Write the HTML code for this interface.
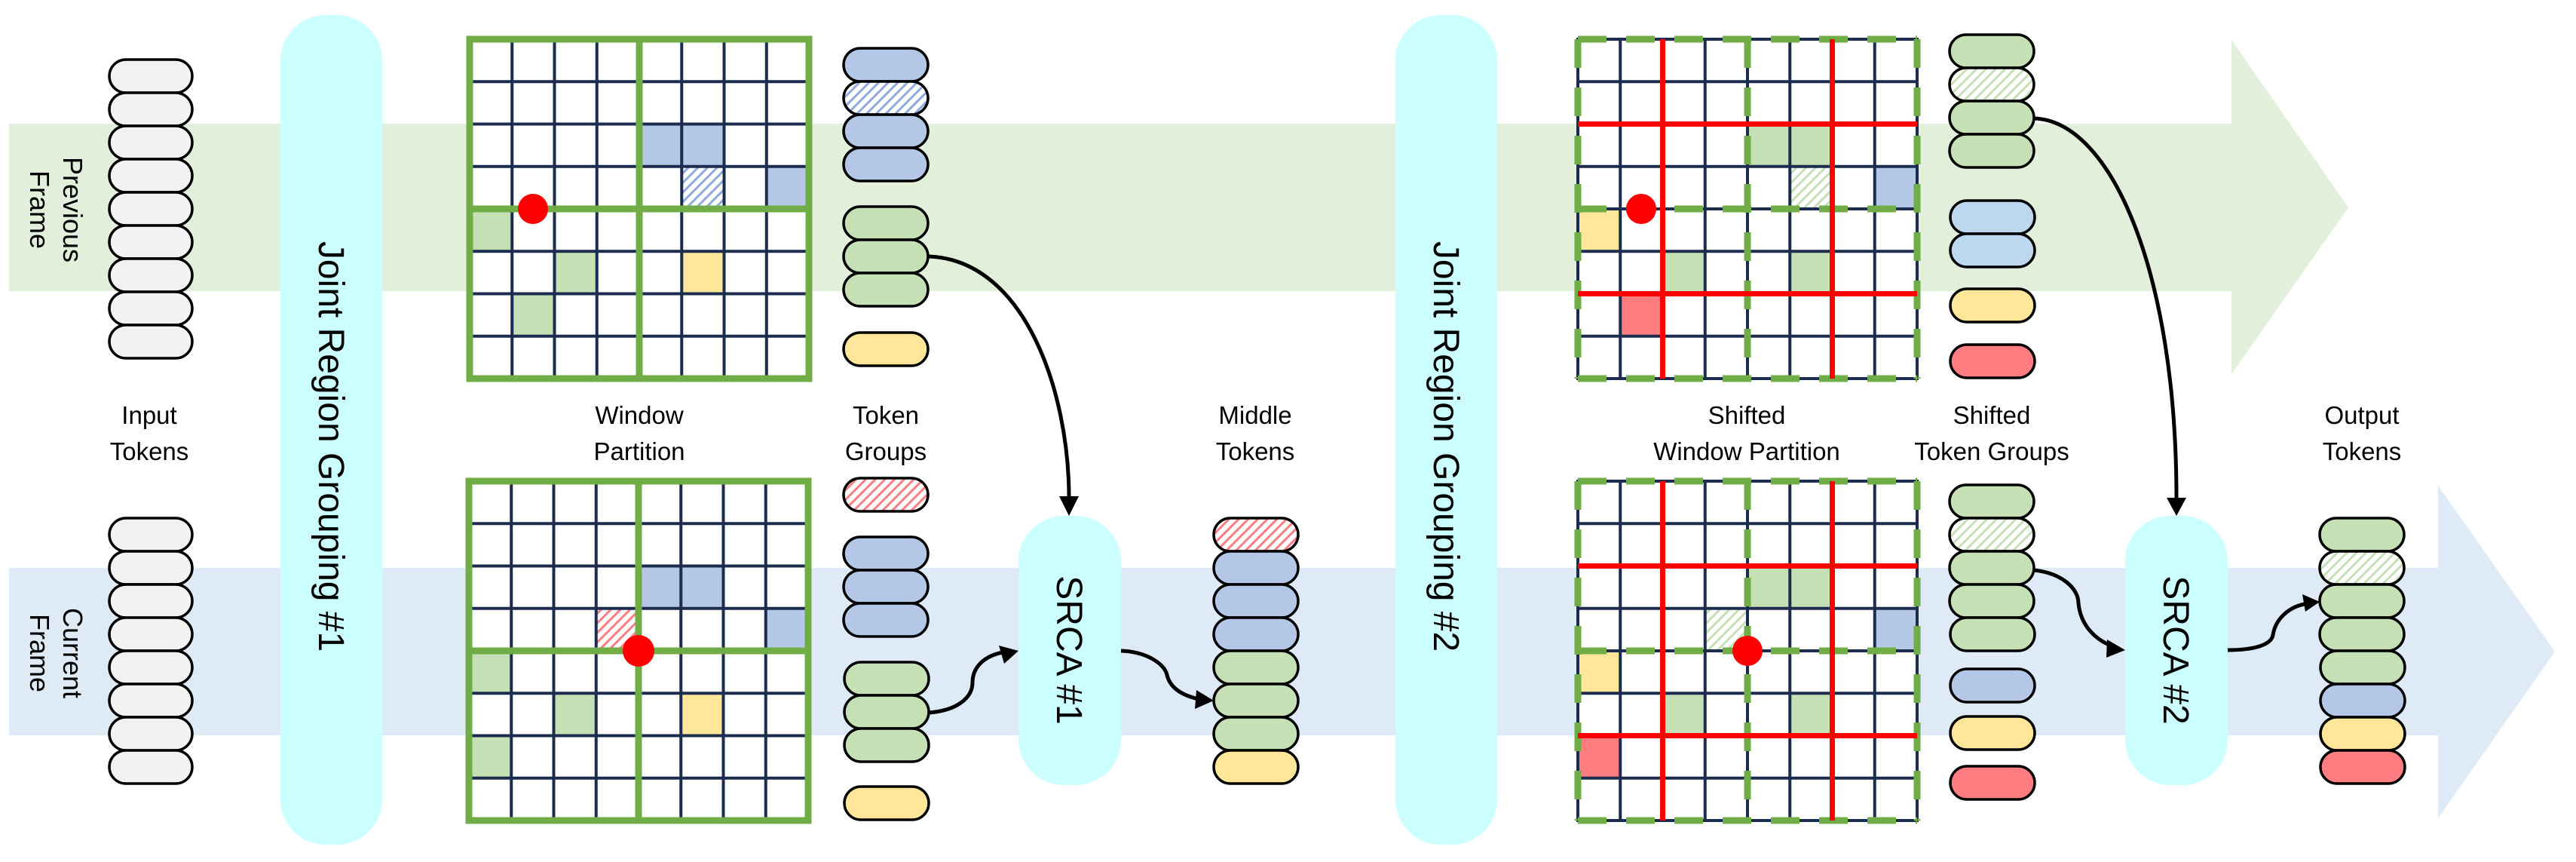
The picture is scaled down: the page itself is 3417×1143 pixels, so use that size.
<!DOCTYPE html>
<html><head><meta charset="utf-8"><style>
html,body{margin:0;padding:0;background:#fff;}
svg{display:block;}
text{font-family:"Liberation Sans",sans-serif;fill:#000;}
</style></head><body>
<svg width="3417" height="1143" viewBox="0 0 3417 1143" xmlns="http://www.w3.org/2000/svg">
<defs>
<pattern id="hb" width="9" height="9" patternUnits="userSpaceOnUse" patternTransform="rotate(45)"><rect width="9" height="9" fill="#fff"/><rect width="3" height="9" fill="#8faadc"/></pattern>
<pattern id="hr" width="9" height="9" patternUnits="userSpaceOnUse" patternTransform="rotate(45)"><rect width="9" height="9" fill="#fff"/><rect width="3" height="9" fill="#ff7c80"/></pattern>
<pattern id="hg" width="9" height="9" patternUnits="userSpaceOnUse" patternTransform="rotate(45)"><rect width="9" height="9" fill="#fff"/><rect width="3" height="9" fill="#c5e0b4"/></pattern>
<path id="gl" d="M56.25 0V450M112.5 0V450M168.75 0V450M225 0V450M281.25 0V450M337.5 0V450M393.75 0V450M0 56.25H450M0 112.5H450M0 168.75H450M0 225H450M0 281.25H450M0 337.5H450M0 393.75H450" stroke="#1b2c4f" stroke-width="4" fill="none"/>
<g id="gsolid"><rect x="0" y="0" width="450" height="450" fill="none" stroke="#70ad47" stroke-width="9"/><path d="M225 0V450M0 225H450" stroke="#70ad47" stroke-width="9"/></g>
<g id="gshift"><rect x="0" y="0" width="450" height="450" fill="none" stroke="#1b2c4f" stroke-width="4"/>
<path d="M0 0H450M0 450H450M0 225H450M0 0V450M450 0V450M225 0V450" stroke="#70ad47" stroke-width="9" stroke-dasharray="38 26" fill="none"/>
<path d="M112.5 0V450M337.5 0V450M0 112.5H450M0 337.5H450" stroke="#ff0000" stroke-width="7"/></g>
</defs>

<polygon points="12,164 2960,164 2960,53 3115,275 2960,496 2960,386 12,386" fill="#e2efda"/>
<polygon points="12,753 3234,753 3234,644 3389,864 3234,1085 3234,975 12,975" fill="#deebf7"/>

<g font-size="36">
<text transform="translate(84,278) rotate(90)" text-anchor="middle">Previous</text>
<text transform="translate(40,278) rotate(90)" text-anchor="middle">Frame</text>
<text transform="translate(84,866) rotate(90)" text-anchor="middle">Current</text>
<text transform="translate(40,866) rotate(90)" text-anchor="middle">Frame</text>
</g>

<rect x="372" y="20" width="135" height="1100" rx="60" fill="#ccffff"/>
<rect x="1851" y="20" width="135" height="1100" rx="60" fill="#ccffff"/>
<rect x="1351" y="684" width="136" height="357" rx="60" fill="#ccffff"/>
<rect x="2819" y="684" width="136" height="357" rx="60" fill="#ccffff"/>
<g font-size="48">
<text transform="translate(423,592) rotate(90)" text-anchor="middle">Joint Region Grouping #1</text>
<text transform="translate(1902,592) rotate(90)" text-anchor="middle">Joint Region Grouping #2</text>
<text transform="translate(1402,862) rotate(90)" text-anchor="middle">SRCA #1</text>
<text transform="translate(2870,862) rotate(90)" text-anchor="middle">SRCA #2</text>
</g>

<g transform="translate(623,52)">
<rect x="0" y="0" width="450" height="450" fill="#fff"/>
<rect x="225" y="112.5" width="112.5" height="56.25" fill="#b4c7e7"/>
<rect x="281.25" y="168.75" width="56.25" height="56.25" fill="url(#hb)"/>
<rect x="393.75" y="168.75" width="56.25" height="56.25" fill="#b4c7e7"/>
<rect x="0" y="225" width="56.25" height="56.25" fill="#c5e0b4"/>
<rect x="112.5" y="281.25" width="56.25" height="56.25" fill="#c5e0b4"/>
<rect x="281.25" y="281.25" width="56.25" height="56.25" fill="#ffe699"/>
<rect x="56.25" y="337.5" width="56.25" height="56.25" fill="#c5e0b4"/>
<use href="#gl"/><use href="#gsolid"/>
<circle cx="84" cy="225" r="20" fill="#ff0000"/>
</g>
<g transform="translate(622,638)">
<rect x="0" y="0" width="450" height="450" fill="#fff"/>
<rect x="225" y="112.5" width="112.5" height="56.25" fill="#b4c7e7"/>
<rect x="168.75" y="168.75" width="56.25" height="56.25" fill="url(#hr)"/>
<rect x="393.75" y="168.75" width="56.25" height="56.25" fill="#b4c7e7"/>
<rect x="0" y="225" width="56.25" height="56.25" fill="#c5e0b4"/>
<rect x="112.5" y="281.25" width="56.25" height="56.25" fill="#c5e0b4"/>
<rect x="281.25" y="281.25" width="56.25" height="56.25" fill="#ffe699"/>
<rect x="0" y="337.5" width="56.25" height="56.25" fill="#c5e0b4"/>
<use href="#gl"/><use href="#gsolid"/>
<circle cx="225" cy="225" r="21" fill="#ff0000"/>
</g>
<g transform="translate(2093,52)">
<rect x="0" y="0" width="450" height="450" fill="#fff"/>
<rect x="225" y="112.5" width="112.5" height="56.25" fill="#c5e0b4"/>
<rect x="281.25" y="168.75" width="56.25" height="56.25" fill="url(#hg)"/>
<rect x="393.75" y="168.75" width="56.25" height="56.25" fill="#b4c7e7"/>
<rect x="0" y="225" width="56.25" height="56.25" fill="#ffe699"/>
<rect x="112.5" y="281.25" width="56.25" height="56.25" fill="#c5e0b4"/>
<rect x="281.25" y="281.25" width="56.25" height="56.25" fill="#c5e0b4"/>
<rect x="56.25" y="337.5" width="56.25" height="56.25" fill="#ff7c80"/>
<use href="#gl"/><use href="#gshift"/>
<circle cx="84" cy="225" r="20" fill="#ff0000"/>
</g>
<g transform="translate(2093,638)">
<rect x="0" y="0" width="450" height="450" fill="#fff"/>
<rect x="225" y="112.5" width="112.5" height="56.25" fill="#c5e0b4"/>
<rect x="168.75" y="168.75" width="56.25" height="56.25" fill="url(#hg)"/>
<rect x="393.75" y="168.75" width="56.25" height="56.25" fill="#b4c7e7"/>
<rect x="0" y="225" width="56.25" height="56.25" fill="#ffe699"/>
<rect x="112.5" y="281.25" width="56.25" height="56.25" fill="#c5e0b4"/>
<rect x="281.25" y="281.25" width="56.25" height="56.25" fill="#c5e0b4"/>
<rect x="0" y="337.5" width="56.25" height="56.25" fill="#ff7c80"/>
<use href="#gl"/><use href="#gshift"/>
<circle cx="225" cy="225" r="20" fill="#ff0000"/>
</g>

<g stroke="#000" stroke-width="3.5">
<g fill="#f2f2f2">
<rect x="145" y="79" width="110" height="44" rx="22"/><rect x="145" y="123" width="110" height="44" rx="22"/><rect x="145" y="167" width="110" height="44" rx="22"/><rect x="145" y="211" width="110" height="44" rx="22"/><rect x="145" y="255" width="110" height="44" rx="22"/><rect x="145" y="299" width="110" height="44" rx="22"/><rect x="145" y="343" width="110" height="44" rx="22"/><rect x="145" y="387" width="110" height="44" rx="22"/><rect x="145" y="431" width="110" height="44" rx="22"/>
<rect x="145" y="687" width="110" height="44" rx="22"/><rect x="145" y="731" width="110" height="44" rx="22"/><rect x="145" y="775" width="110" height="44" rx="22"/><rect x="145" y="819" width="110" height="44" rx="22"/><rect x="145" y="863" width="110" height="44" rx="22"/><rect x="145" y="907" width="110" height="44" rx="22"/><rect x="145" y="951" width="110" height="44" rx="22"/><rect x="145" y="995" width="110" height="44" rx="22"/>
</g>
<rect x="1119" y="64" width="112" height="44" rx="22" fill="#b4c7e7"/>
<rect x="1119" y="108" width="112" height="44" rx="22" fill="url(#hb)"/>
<rect x="1119" y="152" width="112" height="44" rx="22" fill="#b4c7e7"/>
<rect x="1119" y="196" width="112" height="44" rx="22" fill="#b4c7e7"/>
<rect x="1119" y="274" width="112" height="44" rx="22" fill="#c5e0b4"/>
<rect x="1119" y="318" width="112" height="44" rx="22" fill="#c5e0b4"/>
<rect x="1119" y="362" width="112" height="44" rx="22" fill="#c5e0b4"/>
<rect x="1119" y="441" width="112" height="44" rx="22" fill="#ffe699"/>
<rect x="1119" y="634" width="112" height="44" rx="22" fill="url(#hr)"/>
<rect x="1119" y="712" width="112" height="44" rx="22" fill="#b4c7e7"/>
<rect x="1119" y="756" width="112" height="44" rx="22" fill="#b4c7e7"/>
<rect x="1119" y="800" width="112" height="44" rx="22" fill="#b4c7e7"/>
<rect x="1120" y="878" width="112" height="44" rx="22" fill="#c5e0b4"/>
<rect x="1120" y="922" width="112" height="44" rx="22" fill="#c5e0b4"/>
<rect x="1120" y="966" width="112" height="44" rx="22" fill="#c5e0b4"/>
<rect x="1120" y="1043" width="112" height="44" rx="22" fill="#ffe699"/>
<rect x="1610" y="687" width="112" height="44" rx="22" fill="url(#hr)"/>
<rect x="1610" y="731" width="112" height="44" rx="22" fill="#b4c7e7"/>
<rect x="1610" y="775" width="112" height="44" rx="22" fill="#b4c7e7"/>
<rect x="1610" y="819" width="112" height="44" rx="22" fill="#b4c7e7"/>
<rect x="1610" y="863" width="112" height="44" rx="22" fill="#c5e0b4"/>
<rect x="1610" y="907" width="112" height="44" rx="22" fill="#c5e0b4"/>
<rect x="1610" y="951" width="112" height="44" rx="22" fill="#c5e0b4"/>
<rect x="1610" y="995" width="112" height="44" rx="22" fill="#ffe699"/>
<rect x="2586" y="46" width="112" height="44" rx="22" fill="#c5e0b4"/>
<rect x="2586" y="90" width="112" height="44" rx="22" fill="url(#hg)"/>
<rect x="2586" y="134" width="112" height="44" rx="22" fill="#c5e0b4"/>
<rect x="2586" y="178" width="112" height="44" rx="22" fill="#c5e0b4"/>
<rect x="2587" y="266" width="112" height="44" rx="22" fill="#bdd7ee"/>
<rect x="2587" y="310" width="112" height="44" rx="22" fill="#bdd7ee"/>
<rect x="2587" y="383" width="112" height="44" rx="22" fill="#ffe699"/>
<rect x="2587" y="457" width="112" height="44" rx="22" fill="#ff7c80"/>
<rect x="2586" y="643" width="112" height="44" rx="22" fill="#c5e0b4"/>
<rect x="2586" y="687" width="112" height="44" rx="22" fill="url(#hg)"/>
<rect x="2586" y="731" width="112" height="44" rx="22" fill="#c5e0b4"/>
<rect x="2586" y="775" width="112" height="44" rx="22" fill="#c5e0b4"/>
<rect x="2587" y="819" width="112" height="44" rx="22" fill="#c5e0b4"/>
<rect x="2587" y="887" width="112" height="44" rx="22" fill="#b4c7e7"/>
<rect x="2587" y="950" width="112" height="44" rx="22" fill="#ffe699"/>
<rect x="2587" y="1016" width="112" height="44" rx="22" fill="#ff7c80"/>
<rect x="3077" y="687" width="112" height="44" rx="22" fill="#c5e0b4"/>
<rect x="3077" y="731" width="112" height="44" rx="22" fill="url(#hg)"/>
<rect x="3077" y="775" width="112" height="44" rx="22" fill="#c5e0b4"/>
<rect x="3077" y="819" width="112" height="44" rx="22" fill="#c5e0b4"/>
<rect x="3078" y="863" width="112" height="44" rx="22" fill="#c5e0b4"/>
<rect x="3078" y="907" width="112" height="44" rx="22" fill="#b4c7e7"/>
<rect x="3078" y="951" width="112" height="44" rx="22" fill="#ffe699"/>
<rect x="3078" y="995" width="112" height="44" rx="22" fill="#ff7c80"/>
</g>

<g fill="none" stroke="#000" stroke-width="5">
<path d="M1232,340 C1360,345 1418,520 1418,660"/>
<path d="M1232,945 C1270,942 1290,925 1290,905 C1290,885 1305,870 1330,865"/>
<path d="M1487,863 C1520,864 1545,880 1548,895 C1552,912 1568,922 1590,927"/>
<path d="M2698,157 C2800,160 2887,360 2887,660"/>
<path d="M2698,756 C2735,760 2757,780 2757,800 C2760,830 2780,848 2800,856"/>
<path d="M2955,862 C2990,862 3013,855 3015,842 C3018,822 3035,805 3057,801"/>
</g>
<g fill="#000">
<polygon points="1405,658 1431,658 1418,684"/>
<polygon points="1351,863 1325,856 1332,880"/>
<polygon points="1610,929 1587,915 1585,940"/>
<polygon points="2874,660 2900,660 2887,684"/>
<polygon points="2819,862 2795,848 2794,872"/>
<polygon points="3077,798 3054,788 3058,811"/>
</g>

<g font-size="33" text-anchor="middle">
<text x="198" y="562">Input</text><text x="198" y="610">Tokens</text>
<text x="848" y="562">Window</text><text x="848" y="610">Partition</text>
<text x="1175" y="562">Token</text><text x="1175" y="610">Groups</text>
<text x="1665" y="562">Middle</text><text x="1665" y="610">Tokens</text>
<text x="2317" y="562">Shifted</text><text x="2317" y="610">Window Partition</text>
<text x="2642" y="562">Shifted</text><text x="2642" y="610">Token Groups</text>
<text x="3133" y="562">Output</text><text x="3133" y="610">Tokens</text>
</g>
</svg>
</body></html>
